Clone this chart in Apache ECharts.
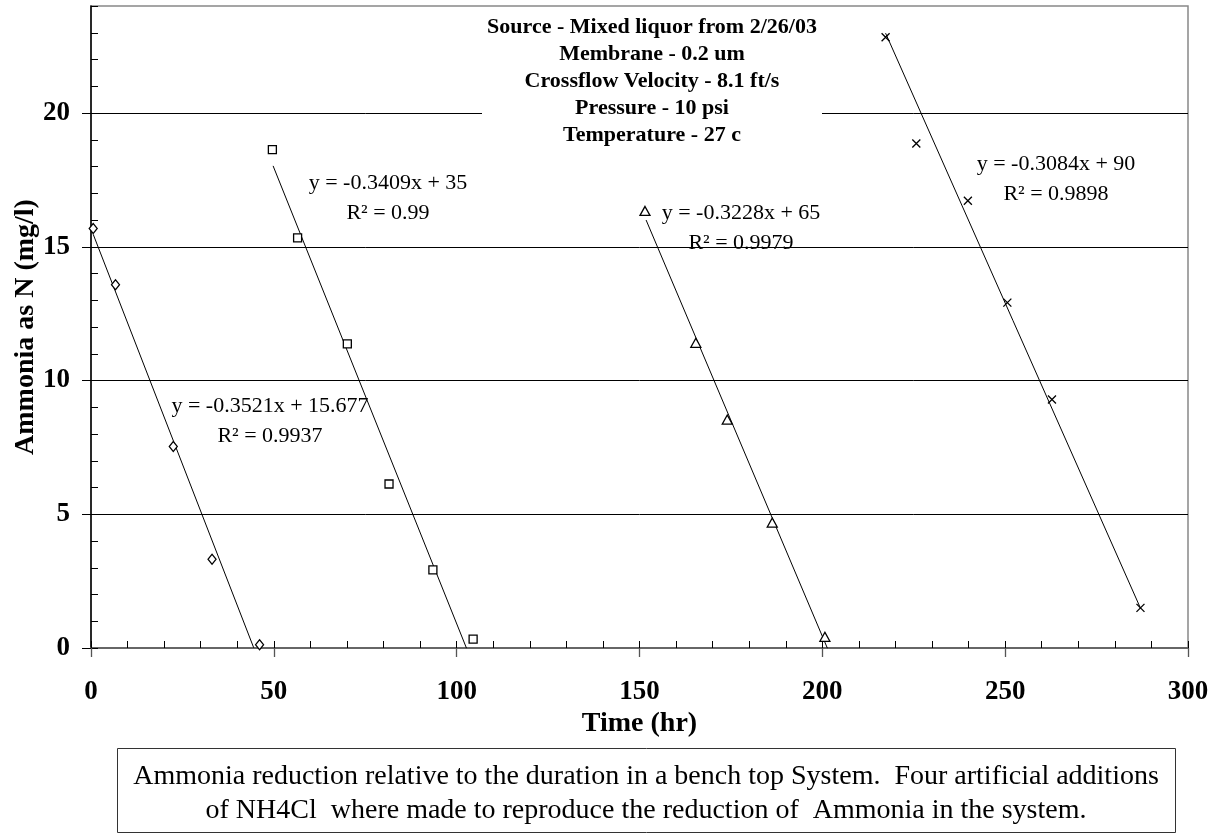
<!DOCTYPE html>
<html><head><meta charset="utf-8">
<script src="https://cdn.jsdelivr.net/npm/echarts@6/dist/echarts.min.js"></script>
<style>html,body{margin:0;padding:0;background:#fff}#c{width:1217px;height:834px}</style>
</head><body><div id="c"></div>
<script>
// ---- data ----
const seriesNames = ['Addition 1', 'Addition 2', 'Addition 3', 'Addition 4'];
const s1x = [0.6, 6.7, 22.5, 33.1, 46.1];
const s1y = [15.68, 13.58, 7.53, 3.32, 0.12];
const s2x = [49.6, 56.5, 70.1, 81.5, 93.5, 104.5];
const s2y = [18.63, 15.33, 11.37, 6.13, 2.92, 0.33];
const s3x = [151.5, 165.4, 174.0, 186.3, 200.7];
const s3y = [16.34, 11.41, 8.54, 4.69, 0.42];
const s4x = [217.3, 225.7, 239.8, 250.6, 262.8, 287.0];
const s4y = [22.83, 18.86, 16.72, 12.91, 9.29, 1.50];

// trend lines (from the printed equations)
const trendSlope = [-0.3521, -0.3409, -0.3228, -0.3084];
const trendIntercept = [15.677, 35, 65, 90];
const trendStart = [0.6, 49.8, 151.8, 217.3];
const trendEnd = [44.5, 102.7, 201.4, 287.0];
const eqText = ['y = -0.3521x + 15.677', 'y = -0.3409x + 35', 'y = -0.3228x + 65', 'y = -0.3084x + 90'];
const r2Text = ['R² = 0.9937', 'R² = 0.99', 'R² = 0.9979', 'R² = 0.9898'];

const xTickValues = [0, 50, 100, 150, 200, 250, 300];
const yTickValues = [0, 5, 10, 15, 20];
const xTitle = 'Time (hr)';
const yTitle = 'Ammonia as N (mg/l)';
const infoLines = ['Source - Mixed liquor from 2/26/03', 'Membrane - 0.2 um', 'Crossflow Velocity - 8.1 ft/s', 'Pressure - 10 psi', 'Temperature - 27 c'];
const captionLines = ['Ammonia reduction relative to the duration in a bench top System.  Four artificial additions', 'of NH4Cl  where made to reproduce the reduction of  Ammonia in the system.'];

// ---- chart ----
const FONT = '"Liberation Serif", "Times New Roman", serif';
const xs = [s1x, s2x, s3x, s4x];
const ys = [s1y, s2y, s3y, s4y];
const symbols = ['diamond', 'rect', 'triangle', 'path://M0,0L10,10M10,0L0,10'];
const symbolSizes = [[8, 10], [8, 8], [10, 9], [8, 8]];
const fills = ['#fff', '#fff', '#fff', 'none'];

const series = [];
for (let i = 0; i < 4; i++) {
  series.push({
    type: 'line', xAxisIndex: 0, yAxisIndex: 0, z: 2,
    data: [[trendStart[i], trendSlope[i] * trendStart[i] + trendIntercept[i]],
           [trendEnd[i], trendSlope[i] * trendEnd[i] + trendIntercept[i]]],
    symbol: 'none', silent: true,
    lineStyle: { color: '#000', width: 1 }
  });
}
for (let i = 0; i < 4; i++) {
  series.push({
    name: seriesNames[i], type: 'scatter', xAxisIndex: 0, yAxisIndex: 0, z: 4,
    data: xs[i].map((x, k) => [x, ys[i][k]]),
    symbol: symbols[i], symbolSize: symbolSizes[i],
    itemStyle: { color: fills[i], borderColor: '#000', borderWidth: 1.3, opacity: 1 }
  });
}

const eqCenters = [[270, 421], [388, 198], [741, 228], [1056, 179]];
const graphics = [
  { type: 'rect', z: 5, shape: { x: 482, y: 8, width: 340, height: 137 }, style: { fill: '#fff' } },
  { type: 'text', z: 6, x: 652, y: 14, style: { text: infoLines.join('\n'), font: 'bold 22px ' + FONT, textAlign: 'center', textVerticalAlign: 'top', lineHeight: 27, fill: '#000' } },
  { type: 'rect', z: 5, shape: { x: 117.5, y: 748.5, width: 1058, height: 84 }, style: { fill: '#fff', stroke: '#333', lineWidth: 1 } },
  { type: 'text', z: 6, x: 646, y: 760, style: { text: captionLines.join('\n'), font: '28px ' + FONT, textAlign: 'center', textVerticalAlign: 'top', lineHeight: 34, fill: '#000' } }
];
for (let i = 0; i < 4; i++) {
  graphics.push({ type: 'text', z: 6, x: eqCenters[i][0], y: eqCenters[i][1],
    style: { text: eqText[i] + '\n' + r2Text[i], font: '22px ' + FONT, textAlign: 'center', textVerticalAlign: 'middle', lineHeight: 30, fill: '#000' } });
}

const option = {
  backgroundColor: '#fff',
  animation: false,
  grid: { left: 91, right: 29, top: 6, bottom: 186, show: true, borderColor: '#888', borderWidth: 1.5, backgroundColor: 'transparent', containLabel: false, outerBoundsMode: 'none' },
  xAxis: [
    { type: 'value', position: 'bottom', min: 0, max: 300, interval: 50,
      name: xTitle, nameLocation: 'middle', nameGap: 62, nameMoveOverlap: false,
      nameTextStyle: { fontFamily: FONT, fontWeight: 'bold', fontSize: 28, color: '#000' },
      axisLine: { show: true, onZero: false, lineStyle: { color: '#666', width: 2 } },
      axisTick: { show: true, inside: false, length: 9, customValues: xTickValues, lineStyle: { color: '#555', width: 1.3 } },
      axisLabel: { show: true, customValues: xTickValues, margin: 31, fontFamily: FONT, fontWeight: 'bold', fontSize: 27, color: '#000', hideOverlap: false },
      splitLine: { show: false } },
    { type: 'value', position: 'bottom', min: 0, max: 300, interval: 10,
      axisLine: { show: false },
      axisTick: { show: true, inside: true, length: 7, lineStyle: { color: '#000', width: 1 } },
      axisLabel: { show: false }, splitLine: { show: false } }
  ],
  yAxis: [
    { type: 'value', position: 'left', min: 0, max: 24, interval: 5,
      name: yTitle, nameLocation: 'middle', nameGap: 51, nameRotate: 90, nameMoveOverlap: false,
      nameTextStyle: { fontFamily: FONT, fontWeight: 'bold', fontSize: 28, color: '#000' },
      axisLine: { show: true, onZero: false, lineStyle: { color: '#000', width: 1.5 } },
      axisTick: { show: true, inside: false, length: 9, customValues: yTickValues, lineStyle: { color: '#000', width: 1 } },
      axisLabel: { show: true, customValues: yTickValues, margin: 21, fontFamily: FONT, fontWeight: 'bold', fontSize: 27, color: '#000', hideOverlap: false },
      splitLine: { show: true, lineStyle: { color: '#000', width: 1 } } },
    { type: 'value', position: 'left', min: 0, max: 24, interval: 1,
      axisLine: { show: false },
      axisTick: { show: true, inside: true, length: 7, lineStyle: { color: '#000', width: 1 } },
      axisLabel: { show: false }, splitLine: { show: false } }
  ],
  series: series,
  graphic: { elements: graphics }
};

const chart = echarts.init(document.getElementById('c'), null, { renderer: 'canvas' });
chart.setOption(option);
</script>
</body></html>
